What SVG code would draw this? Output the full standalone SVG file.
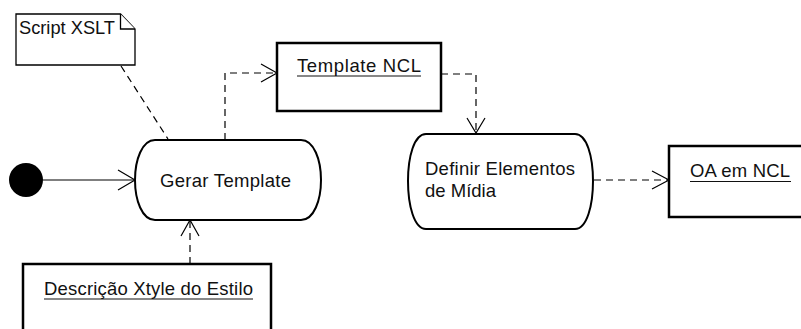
<svg xmlns="http://www.w3.org/2000/svg" width="801" height="329" viewBox="0 0 801 329">
<style>
.t{font-family:"Liberation Sans",Arial,sans-serif;font-size:18.5px;fill:#111}
.box{fill:#fff;stroke:#000;stroke-width:2.5}
.act{fill:#fff;stroke:#000;stroke-width:2}
.note{fill:#fff;stroke:#000;stroke-width:1.3}
.c{fill:none;stroke:#000;stroke-width:1.2}
.d{stroke-dasharray:7 5}
.ah{fill:none;stroke:#000;stroke-width:1.2}
.ul{stroke:#111;stroke-width:1.2}
</style>
<rect width="801" height="329" fill="#fff"/>
<g id="connectors">
  <line class="c" x1="43" y1="180" x2="134" y2="180"/>
  <polyline class="ah" points="118,170 135,180 118,190"/>
  <polyline class="c d" points="225,140 225,73 276,73"/>
  <polyline class="ah" points="261,64 277,73 261,82"/>
  <polyline class="c d" points="441,74 476,74 476,132"/>
  <polyline class="ah" points="467,118 476,133 485,118"/>
  <line class="c d" x1="594" y1="180" x2="668" y2="180"/>
  <polyline class="ah" points="652,171 669,180 652,189"/>
  <line class="c d" x1="190" y1="264" x2="190" y2="221"/>
  <polyline class="ah" points="181,236 190,220 199,236"/>
  <line class="c d" x1="121" y1="66" x2="168" y2="139"/>
</g>
<g id="initial">
  <circle cx="26" cy="180" r="17" fill="#000"/>
</g>
<g id="note-script">
  <path class="note" d="M16,14 H120.5 L135,29 V65 H16 Z"/>
  <polyline class="note" points="120.5,14 120.5,29 135,29"/>
  <text class="t" x="19" y="34" textLength="96" lengthAdjust="spacingAndGlyphs">Script XSLT</text>
</g>
<g id="gerar-template">
  <path class="act" d="M155,140 H301 C314,140 321,160 321,180 C321,200 314,220 301,220 H155 C142,220 135,200 135,180 C135,160 142,140 155,140 Z"/>
  <text class="t" x="160" y="187" textLength="131" lengthAdjust="spacing">Gerar Template</text>
</g>
<g id="template-ncl">
  <rect class="box" x="277" y="43" width="164" height="68"/>
  <text class="t" x="297" y="72" textLength="124" lengthAdjust="spacing">Template NCL</text>
  <line class="ul" x1="297" y1="76" x2="421" y2="76"/>
</g>
<g id="definir-elementos">
  <path class="act" d="M426,134 H575 C587,134 593,157 593,181 C593,205 587,229 575,229 H426 C414,229 408,205 408,181 C408,157 414,134 426,134 Z"/>
  <text class="t" x="425" y="175" textLength="150" lengthAdjust="spacing">Definir Elementos</text>
  <text class="t" x="425" y="197" textLength="71" lengthAdjust="spacing">de Mídia</text>
</g>
<g id="oa-ncl">
  <rect class="box" x="669" y="146" width="140" height="71"/>
  <text class="t" x="690" y="177" textLength="100" lengthAdjust="spacing">OA em NCL</text>
  <line class="ul" x1="690" y1="181.5" x2="791" y2="181.5"/>
</g>
<g id="descricao-xtyle">
  <rect class="box" x="23" y="264" width="248" height="80"/>
  <text class="t" x="44" y="295" textLength="209" lengthAdjust="spacing">Descrição Xtyle do Estilo</text>
  <line class="ul" x1="44" y1="299" x2="253" y2="299"/>
</g>
</svg>
